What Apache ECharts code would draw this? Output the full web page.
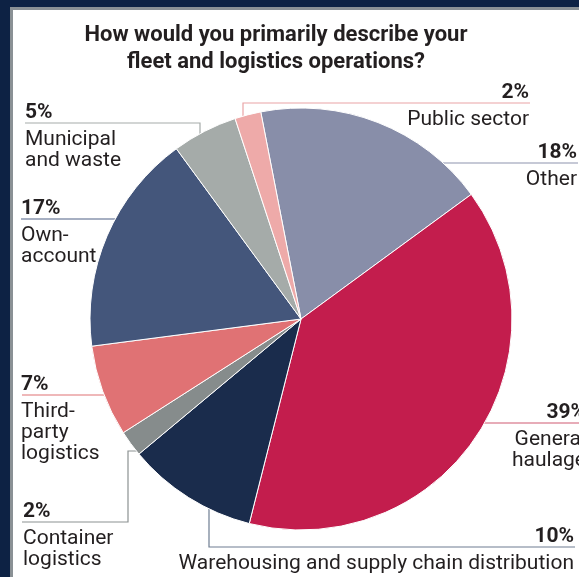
<!DOCTYPE html>
<html><head><meta charset="utf-8">
<script src="https://cdn.jsdelivr.net/npm/echarts@6/dist/echarts.min.js"></script>
<style>html,body{margin:0;padding:0;background:#fff;overflow:hidden}#c{width:579px;height:577px}</style>
</head><body><div id="c"></div>
<script>
// ---- data ----
const categories = ['Other', 'General haulage', 'Warehousing and supply chain distribution', 'Container logistics', 'Third-party logistics', 'Own-account', 'Municipal and waste', 'Public sector'];
const values = [18, 39, 10, 2, 7, 17, 5, 2];
const labelLines = [['Other'], ['General', 'haulage'], ['Warehousing and supply chain distribution'], ['Container', 'logistics'], ['Third-', 'party', 'logistics'], ['Own-', 'account'], ['Municipal', 'and waste'], ['Public sector']];
const titleText = 'How would you primarily describe your\nfleet and logistics operations?';

// ---- styles / layout ----
const sliceColors = ['#888ea9', '#c31d4d', '#1a2c4c', '#868c8c', '#e07274', '#44567b', '#a5aba9', '#eeaaa9'];
const guideColors = ['#8d93ad', '#cf5a72', '#6e7d92', '#8c9292', '#e07274', '#4f6185', '#a5aba9', '#eaa4a6'];
// label anchors: x = text edge, y = guide line level, side
const labelAnchor = [
  { x: 577, y: 163, side: 'right' },
  { x: 586, y: 423, side: 'right' },
  { x: 574, y: 547, side: 'right' },
  { x: 23, y: 522, side: 'left' },
  { x: 21, y: 395, side: 'left' },
  { x: 21, y: 219, side: 'left' },
  { x: 25, y: 123, side: 'left' },
  { x: 529, y: 103, side: 'right' }
];
const guidePts = [
  [[443, 163], [443, 163], [578, 163]],
  [[443, 423], [443, 423], [580, 423]],
  [[209, 471], [209, 547], [575, 547]],
  [[140, 451], [128, 451], [128, 522], [22, 522]],
  [[128, 395], [128, 395], [22, 395]],
  [[128, 219], [128, 219], [21, 219]],
  [[200, 150], [200, 123], [25, 123]],
  [[243, 118], [243, 103], [530, 103]]
];

const FONT = 'Roboto';
const chart = echarts.init(document.getElementById('c'), null, { renderer: 'canvas' });

const data = categories.map((c, i) => ({
  name: c,
  value: values[i],
  itemStyle: { color: sliceColors[i] },
  labelLine: { lineStyle: { color: guideColors[i], width: 1.2 } }
}));

chart.setOption({
  backgroundColor: '#ffffff',
  animation: false,
  title: {
    text: titleText,
    left: 271,
    top: 17,
    textAlign: 'center',
    textStyle: { fontFamily: FONT, fontSize: 22, fontWeight: 'bold', color: '#231f20', lineHeight: 27 }
  },
  graphic: [
    { type: 'rect', shape: { x: 0, y: 0, width: 579, height: 7 }, style: { fill: '#0d2244' }, z: 100 },
    { type: 'rect', shape: { x: 0, y: 0, width: 10, height: 577 }, style: { fill: '#0d2244' }, z: 100 },
    { type: 'rect', shape: { x: 10, y: 7, width: 569, height: 3 }, style: { fill: '#8a9195' }, z: 100 },
    { type: 'rect', shape: { x: 10, y: 7, width: 3, height: 570 }, style: { fill: '#8a9195' }, z: 100 }
  ],
  series: [{
    type: 'pie',
    center: [301, 319],
    radius: 211,
    startAngle: 101,
    clockwise: true,
    avoidLabelOverlap: false,
    itemStyle: { borderColor: '#ffffff', borderWidth: 1 },
    data: data,
    label: {
      show: true,
      position: 'outside',
      fontFamily: FONT,
      color: '#231f20',
      formatter: function (p) {
        const i = p.dataIndex;
        const s = labelAnchor[i].side === 'right' ? 'r' : 'l';
        return '{p' + s + '|' + values[i] + '%}\n{s| }\n' + labelLines[i].map(t => '{n' + s + '|' + t + '}').join('\n');
      },
      rich: {
        pl: { fontFamily: FONT, fontSize: 21, fontWeight: 'bold', color: '#231f20', lineHeight: 24, align: 'left' },
        pr: { fontFamily: FONT, fontSize: 21, fontWeight: 'bold', color: '#231f20', lineHeight: 24, align: 'right' },
        s: { fontSize: 1, lineHeight: 4 },
        nl: { fontFamily: FONT, fontSize: 21, color: '#231f20', lineHeight: 21, align: 'left' },
        nr: { fontFamily: FONT, fontSize: 21, color: '#231f20', lineHeight: 21, align: 'right' }
      }
    },
    labelLine: { show: true, length: 5, length2: 5 },
    labelLayout: function (params) {
      const i = params.dataIndex;
      const a = labelAnchor[i];
      return {
        x: a.x,
        y: a.y - 22,
        align: a.side,
        verticalAlign: 'top',
        labelLinePoints: guidePts[i]
      };
    },
    emphasis: { disabled: true }
  }]
});
</script>
</body></html>
